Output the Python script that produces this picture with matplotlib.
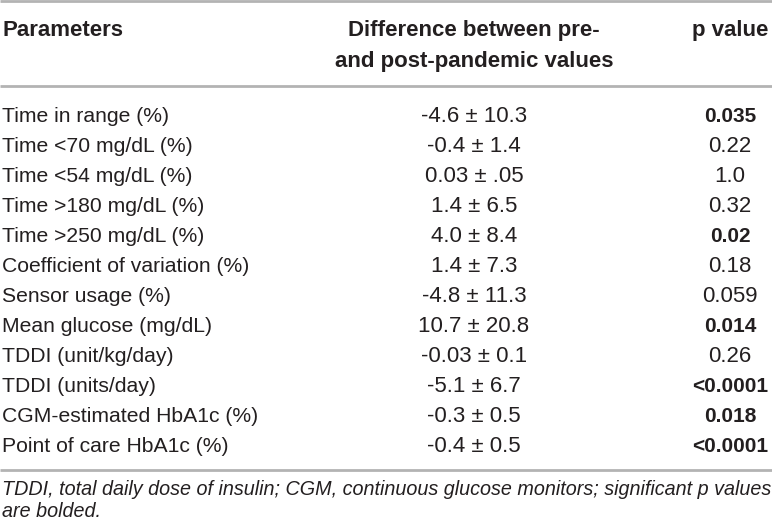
import matplotlib
matplotlib.use("Agg")
import matplotlib.pyplot as plt

# table contents
parameters = [
    "Time in range (%)",
    "Time <70 mg/dL (%)",
    "Time <54 mg/dL (%)",
    "Time >180 mg/dL (%)",
    "Time >250 mg/dL (%)",
    "Coefficient of variation (%)",
    "Sensor usage (%)",
    "Mean glucose (mg/dL)",
    "TDDI (unit/kg/day)",
    "TDDI (units/day)",
    "CGM-estimated HbA1c (%)",
    "Point of care HbA1c (%)",
]
differences = [
    "-4.6 \u00b1 10.3", "-0.4 \u00b1 1.4", "0.03 \u00b1 .05", "1.4 \u00b1 6.5",
    "4.0 \u00b1 8.4", "1.4 \u00b1 7.3", "-4.8 \u00b1 11.3", "10.7 \u00b1 20.8",
    "-0.03 \u00b1 0.1", "-5.1 \u00b1 6.7", "-0.3 \u00b1 0.5", "-0.4 \u00b1 0.5",
]
p_values = ["0.035", "0.22", "1.0", "0.32", "0.02", "0.18", "0.059",
            "0.014", "0.26", "<0.0001", "0.018", "<0.0001"]
significant = [True, False, False, False, True, False, False,
               True, False, True, True, True]

header = ["Parameters", "Difference between pre-\nand post-pandemic values", "p value"]
footnote = ("TDDI, total daily dose of insulin; CGM, continuous glucose monitors; significant p values\n"
            "are bolded.")

plt.rcParams['font.family'] = ['Liberation Sans', 'DejaVu Sans']
txt = "#231f20"
rule = "#b3b3b3"
fs = 16

fig = plt.figure(figsize=(7.72, 5.28), dpi=100)
ax = fig.add_axes([0, 0, 1, 1])
ax.set_xlim(0, 772)
ax.set_ylim(528, 0)
ax.axis("off")

# column anchors (pixels)
x_par, x_diff, x_p = 2, 474, 730

# rules
ax.hlines([1, 86, 470], 0, 772, colors=rule, linewidth=2)

# header
ax.text(x_par, 36, header[0], fontsize=fs, fontweight="bold", color=txt, va="baseline")
for k, line in enumerate(header[1].split("\n")):
    ax.text(x_diff, 36 + 31 * k, line, fontsize=fs, fontweight="bold",
            color=txt, va="baseline", ha="center")
ax.text(x_p, 36, header[2], fontsize=fs, fontweight="bold", color=txt,
        va="baseline", ha="center")

# body rows
for i, (par, diff, p, sig) in enumerate(zip(parameters, differences, p_values, significant)):
    y = 122 + 30 * i
    ax.text(x_par, y, par, fontsize=15.2, color=txt, va="baseline")
    ax.text(x_diff, y, diff, fontsize=fs, color=txt, va="baseline", ha="center")
    if sig:
        ax.text(x_p, y, p, fontsize=15, color=txt, va="baseline", ha="center",
                fontweight="bold")
    else:
        ax.text(x_p, y, p, fontsize=fs, color=txt, va="baseline", ha="center")

# footnote
for k, line in enumerate(footnote.split("\n")):
    ax.text(x_par, 495 + 22 * k, line, fontsize=14.2, style="italic",
            color=txt, va="baseline")

fig.savefig("out.png", dpi=100)
